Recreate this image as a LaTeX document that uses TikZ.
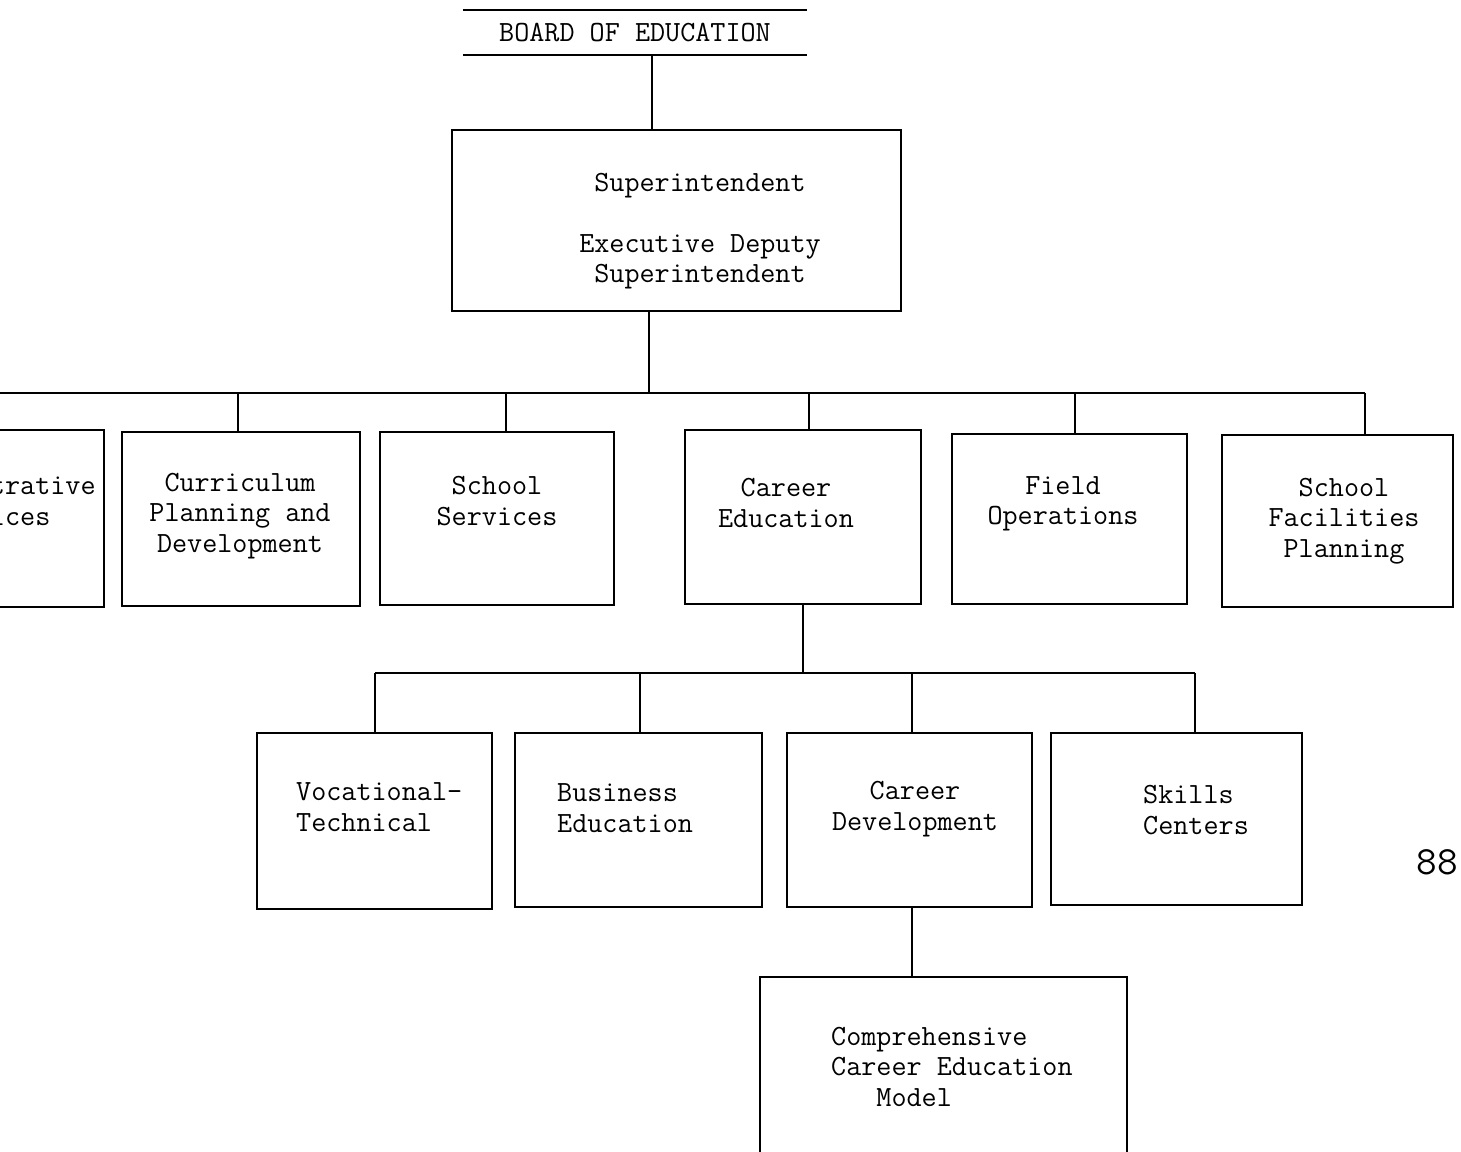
\documentclass[tikz,border=0pt]{standalone}
\usetikzlibrary{calc}
\begin{document}
\begin{tikzpicture}[x=1pt,y=-1pt,
  box/.style={draw, line width=2.2pt, inner sep=0pt},
  conn/.style={line width=2.2pt},
  txt/.style={font=\ttfamily\fontsize{29.3}{30.5}\selectfont, inner sep=0pt, align=center},
  txtl/.style={txt, align=left, anchor=west}]
\useasboundingbox (0,0) rectangle (1461,1151);
\clip (0,0) rectangle (1461,1151);

% Board of Education
\node[txt, minimum width=344, minimum height=45] (board) at (635,32.5) {BOARD OF EDUCATION};
\draw[conn] (board.north west) -- (board.north east);
\draw[conn] (board.south west) -- (board.south east);

% Superintendent
\node[box, minimum width=449, minimum height=181] (sup) at (676.5,220.5) {};
\node[txt] (tsup) at (700,231) {Superintendent\\[30.5pt]Executive Deputy\\Superintendent};

% Row 1 boxes
\node[box, minimum width=239, minimum height=177] (admin) at (-15.5,518.5) {};
\node[box, minimum width=238, minimum height=174] (curr) at (241,519) {};
\node[box, minimum width=234, minimum height=173] (ss) at (497,518.5) {};
\node[box, minimum width=236, minimum height=174] (career) at (803,517) {};
\node[box, minimum width=235, minimum height=170] (field) at (1069.5,519) {};
\node[box, minimum width=231, minimum height=172] (facil) at (1337.5,521) {};

\node[txt] (tadmin) at (-10,501) {Administrative\\Services};
\node[txt] (tcurr) at (240,516) {Curriculum\\Planning and\\Development};
\node[txt] (tss) at (497,501) {School\\Services};
\node[txt] (tcareer) at (786,503) {Career\\Education};
\node[txt] (tfield) at (1063,504) {Field\\Operations};
\node[txt] (tfacil) at (1344,521) {School\\Facilities\\Planning};

% Row 2 boxes
\node[box, minimum width=235, minimum height=176] (voc) at (374.5,821) {};
\node[box, minimum width=247, minimum height=174] (bus) at (638.5,820) {};
\node[box, minimum width=245, minimum height=174] (cdev) at (909.5,820) {};
\node[box, minimum width=251, minimum height=172] (skills) at (1176.5,819) {};

\node[txtl] (tvoc) at (296,807) {Vocational-\\Technical};
\node[txtl] (tbus) at (557,808) {Business\\Education};
\node[txt] (tcdev) at (915,809) {Career\\Development};
\node[txtl] (tskills) at (1143,810) {Skills\\Centers};

% Bottom box
\node[box, minimum width=367, minimum height=206] (ccem) at (943.5,1080) {};
\node[txtl] (tccem) at (831,1067) {Comprehensive\\Career Education\\\phantom{Car}Model};

% Page number
\node[font=\ttfamily\fontsize{40}{40}\selectfont, inner sep=0pt] (pg) at (1437,862) {88};

% Connectors
\coordinate (b0) at (652,55);
\draw[conn] (b0) -- (b0 |- sup.north);

\coordinate (s0) at (649,311);
\coordinate (busA) at (-15,393);
\coordinate (busB) at (1365,393);
\draw[conn] (s0) -- (s0 |- busA);
\draw[conn] (busA) -- (busB);
\coordinate (d1) at (238,393);
\coordinate (d2) at (506,393);
\coordinate (d3) at (809,393);
\coordinate (d4) at (1075,393);
\draw[conn] (busA) -- (admin.north);
\draw[conn] (d1) -- (d1 |- curr.north);
\draw[conn] (d2) -- (d2 |- ss.north);
\draw[conn] (d3) -- (d3 |- career.north);
\draw[conn] (d4) -- (d4 |- field.north);
\draw[conn] (busB) -- (busB |- facil.north);

\coordinate (bus2A) at (375,673);
\coordinate (bus2B) at (1195,673);
\coordinate (e2) at (640,673);
\coordinate (e3) at (912,673);
\draw[conn] (career.south) -- (career.south |- bus2A);
\draw[conn] (bus2A) -- (bus2B);
\draw[conn] (bus2A) -- (bus2A |- voc.north);
\draw[conn] (e2) -- (e2 |- bus.north);
\draw[conn] (e3) -- (e3 |- cdev.north);
\draw[conn] (bus2B) -- (bus2B |- skills.north);

\coordinate (f0) at (912,907);
\draw[conn] (f0) -- (f0 |- ccem.north);
\end{tikzpicture}
\end{document}
